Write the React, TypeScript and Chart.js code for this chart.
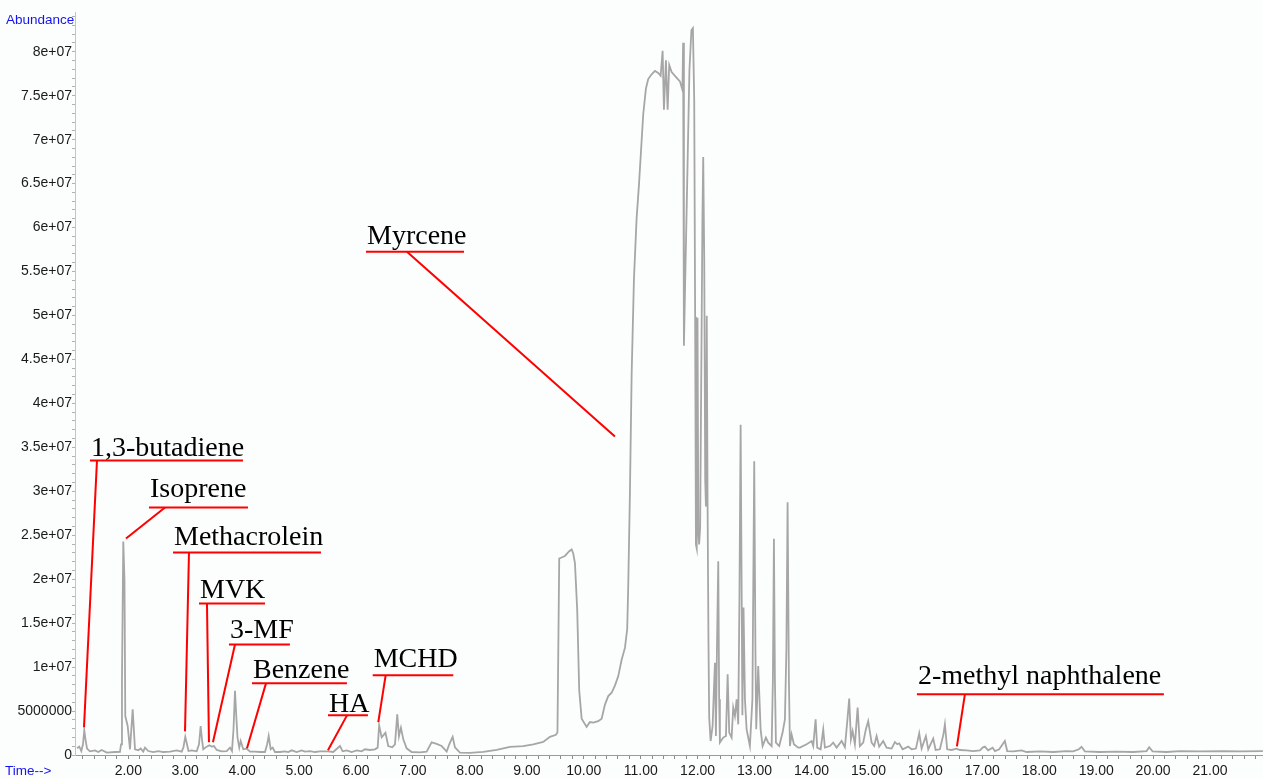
import React, { useEffect, useRef } from 'react';
import { Chart, registerables } from 'chart.js';

Chart.register(...registerables);

// Retention time (min)
const TIME = [
  1.099,1.139,1.175,1.204,1.227,1.248,1.275,1.327,1.415,1.473,
  1.533,1.621,1.766,1.854,1.872,1.889,1.912,1.933,1.947,1.989,
  2.030,2.077,2.118,2.176,2.218,2.263,2.293,2.351,2.439,2.527,
  2.615,2.732,2.850,2.938,2.969,3.001,3.031,3.057,3.113,3.201,
  3.242,3.271,3.294,3.317,3.377,3.423,3.465,3.505,3.552,3.640,
  3.728,3.786,3.821,3.848,3.874,3.900,3.918,3.949,3.974,4.020,
  4.079,4.137,4.225,4.313,4.401,4.439,4.466,4.501,4.536,4.576,
  4.664,4.752,4.810,4.870,4.957,5.045,5.103,5.191,5.279,5.367,
  5.512,5.600,5.718,5.765,5.836,5.923,6.011,6.099,6.157,6.245,
  6.333,6.380,6.406,6.450,6.517,6.566,6.636,6.684,6.724,6.754,
  6.789,6.830,6.889,6.977,7.123,7.240,7.328,7.416,7.504,7.592,
  7.637,7.697,7.737,7.825,8.001,8.235,8.470,8.703,8.937,9.113,
  9.288,9.406,9.511,9.538,9.569,9.611,9.669,9.745,9.787,9.815,
  9.845,9.885,9.920,9.963,10.050,10.108,10.166,10.254,10.314,10.372,
  10.430,10.489,10.547,10.605,10.665,10.723,10.763,10.781,10.811,10.841,
  10.881,10.928,10.969,11.004,11.044,11.092,11.132,11.192,11.250,11.308,
  11.350,11.385,11.408,11.443,11.473,11.501,11.543,11.601,11.689,11.733,
  11.745,11.759,11.782,11.821,11.856,11.891,11.917,11.940,11.956,11.970,
  11.984,11.998,12.012,12.026,12.044,12.067,12.084,12.098,12.116,12.133,
  12.146,12.160,12.174,12.190,12.203,12.228,12.263,12.286,12.304,12.321,
  12.339,12.362,12.378,12.391,12.449,12.497,12.527,12.555,12.597,12.625,
  12.655,12.685,12.713,12.734,12.755,12.774,12.786,12.806,12.831,12.860,
  12.918,12.962,12.994,13.015,13.029,13.064,13.106,13.141,13.199,13.240,
  13.300,13.322,13.340,13.357,13.375,13.433,13.492,13.533,13.559,13.580,
  13.603,13.621,13.650,13.691,13.767,13.796,13.914,14.002,14.030,14.072,
  14.100,14.160,14.206,14.235,14.323,14.381,14.441,14.529,14.587,14.631,
  14.662,14.692,14.722,14.762,14.810,14.850,14.908,14.955,14.996,15.056,
  15.101,15.143,15.189,15.259,15.319,15.407,15.465,15.505,15.540,15.600,
  15.698,15.758,15.834,15.892,15.934,16.009,16.050,16.138,16.180,16.255,
  16.317,16.343,16.383,16.461,16.548,16.606,16.724,16.840,16.958,17.005,
  17.045,17.103,17.181,17.221,17.297,17.396,17.437,17.542,17.690,17.778,
  18.011,18.245,18.480,18.596,18.696,18.743,18.801,19.065,19.358,19.650,
  19.885,19.931,19.990,20.236,20.470,20.821,21.230,21.524,21.928,
];

// Abundance in millions of counts
const ABUNDANCE_M = [
  0.76,0.95,0.45,1.22,2.81,1.78,0.73,0.42,0.53,0.34,
  0.57,0.27,0.34,0.36,1.22,8.60,24.28,19.97,4.43,3.30,
  0.65,5.19,0.65,0.53,0.73,0.39,0.84,0.45,0.34,0.45,
  0.34,0.39,0.53,0.39,0.88,2.07,1.22,0.45,0.53,0.42,
  1.22,3.30,1.78,0.65,0.95,1.10,0.95,1.02,0.57,0.42,
  0.45,0.84,0.45,2.92,7.30,4.06,2.01,0.84,1.59,0.65,
  0.73,0.39,0.39,0.34,0.34,1.22,2.16,0.65,0.84,0.34,
  0.34,0.42,0.34,0.53,0.34,0.53,0.39,0.45,0.34,0.42,
  0.42,0.34,1.02,0.42,0.53,0.34,0.53,0.42,0.65,0.57,
  0.65,0.84,3.38,2.01,2.52,1.02,0.88,1.22,4.63,2.13,
  3.11,1.78,0.76,0.34,0.31,0.39,1.44,1.27,1.02,0.39,
  1.22,2.07,0.88,0.27,0.25,0.36,0.59,0.93,1.02,1.22,
  1.48,2.07,2.30,2.58,22.35,22.47,22.64,23.18,23.38,22.92,
  21.84,16.48,7.35,4.13,3.20,3.75,3.69,3.85,4.13,5.73,
  6.70,7.08,7.89,8.95,10.83,12.18,14.33,19.17,29.90,43.33,
  54.06,61.05,64.81,68.57,72.86,75.82,76.89,77.43,77.81,77.59,
  77.26,80.11,73.40,79.03,73.40,78.50,77.69,77.26,76.63,75.65,
  81.02,46.56,54.06,66.56,77.92,82.47,82.69,74.51,49.85,23.94,
  23.49,49.74,25.65,23.94,25.88,46.10,60.88,68.03,56.33,31.33,
  28.26,49.97,29.06,13.15,4.28,1.59,3.30,7.47,10.50,2.16,
  12.01,22.05,6.33,1.41,1.98,2.16,9.17,2.55,1.98,5.39,
  4.43,6.33,3.49,17.69,37.58,17.69,4.51,16.78,6.33,2.92,
  1.02,6.33,33.41,12.01,2.92,10.11,2.92,1.02,1.98,1.41,
  1.02,8.60,24.59,8.60,1.41,1.02,2.55,4.06,12.01,28.75,
  8.60,1.02,2.35,1.22,0.84,0.84,1.22,1.59,1.02,4.06,
  0.84,0.65,2.92,0.84,1.02,1.41,0.84,1.59,0.88,4.06,
  6.41,1.78,2.73,1.22,5.39,1.02,1.41,2.92,3.86,1.41,
  1.02,2.16,0.95,1.59,0.84,0.73,1.48,1.22,1.33,0.65,
  0.95,0.65,0.73,2.47,0.73,2.16,0.65,1.86,0.57,0.65,
  2.35,3.49,0.65,0.57,0.73,0.57,0.53,0.45,0.53,0.84,
  0.95,0.53,0.84,0.45,0.65,1.59,0.45,0.42,0.53,0.34,
  0.42,0.34,0.45,0.42,0.65,0.93,0.42,0.34,0.39,0.34,
  0.45,0.88,0.42,0.34,0.45,0.42,0.45,0.42,0.45,
];

// Axis ranges and ticks
const X_MIN = 1.064;
const X_MAX = 21.93;
const Y_MIN = 0;
const Y_MAX = 84.52;
const X_LABEL_VALUES = [2, 3, 4, 5, 6, 7, 8, 9, 10, 11, 12, 13, 14, 15, 16, 17, 18, 19, 20, 21];
const X_TICK_LABELS = ['2.00','3.00','4.00','5.00','6.00','7.00','8.00','9.00','10.00','11.00','12.00','13.00','14.00','15.00','16.00','17.00','18.00','19.00','20.00','21.00'];
const Y_LABEL_VALUES = [0, 5, 10, 15, 20, 25, 30, 35, 40, 45, 50, 55, 60, 65, 70, 75, 80];
const Y_TICK_LABELS = ['0','5000000','1e+07','1.5e+07','2e+07','2.5e+07','3e+07','3.5e+07','4e+07','4.5e+07','5e+07','5.5e+07','6e+07','6.5e+07','7e+07','7.5e+07','8e+07'];

// Compound annotations
const ANNOT_LABELS = ['1,3-butadiene','Isoprene','Methacrolein','MVK','3-MF','Benzene','HA','MCHD','Myrcene','2-methyl naphthalene'];
const ANNOT_UNDERLINE_ABUND = [33.49, 28.15, 23.03, 17.24, 12.58, 8.15, 4.51, 9.06, 57.24, 6.90];
const ANNOT_UNDERLINE_START = [1.327, 2.364, 2.785, 3.242, 3.768, 4.172, 5.507, 6.293, 6.175, 15.851];
const ANNOT_UNDERLINE_END = [4.014, 4.102, 5.384, 4.401, 4.839, 5.840, 6.209, 7.708, 7.896, 20.189];
const ANNOT_ANCHOR_TIME = [1.450, 2.645, 3.066, 3.382, 3.874, 4.418, 5.841, 6.520, 6.895, 16.694];
const ANNOT_PEAK_TIME = [1.222, 1.960, 2.996, 3.417, 3.487, 4.085, 5.507, 6.391, 10.547, 16.554];
const ANNOT_PEAK_ABUND = [3.15, 24.62, 2.69, 1.44, 1.44, 0.76, 0.53, 3.75, 36.22, 0.99];
const ANNOT_TEXT_GAP = [5, 11, 8, 5, 6, 5, 3, 8, 8, 10];

const SANS = '"Liberation Sans", Arial, Helvetica, sans-serif';
const SERIF = '"Liberation Serif", "Times New Roman", serif';

export default function App() {
  const ref = useRef<HTMLCanvasElement>(null);

  useEffect(() => {
    const canvas = ref.current;
    if (!canvas) return;

    const points = TIME.map((t, i) => ({ x: t, y: ABUNDANCE_M[i] }));

    const bgPlugin = {
      id: 'bg',
      beforeDraw(chart: any) {
        const c = chart.ctx;
        c.save();
        c.fillStyle = '#fcfdfd';
        c.fillRect(0, 0, chart.width, chart.height);
        c.restore();
      },
    };

    const annotPlugin = {
      id: 'annot',
      afterDraw(chart: any) {
        const c = chart.ctx;
        const xs = chart.scales.x;
        const ys = chart.scales.y;
        c.save();
        c.font = '13.5px ' + SANS;
        c.fillStyle = '#1414f0';
        c.textAlign = 'left';
        c.textBaseline = 'middle';
        c.fillText('Abundance', 6, 20);
        c.fillText('Time-->', 5, 771);

        for (let i = 0; i < ANNOT_LABELS.length; i++) {
          const uy = ys.getPixelForValue(ANNOT_UNDERLINE_ABUND[i]);
          const ux1 = xs.getPixelForValue(ANNOT_UNDERLINE_START[i]);
          const ux2 = xs.getPixelForValue(ANNOT_UNDERLINE_END[i]);
          const ax = xs.getPixelForValue(ANNOT_ANCHOR_TIME[i]);
          const px = xs.getPixelForValue(ANNOT_PEAK_TIME[i]);
          const py = ys.getPixelForValue(ANNOT_PEAK_ABUND[i]);

          c.font = '28px ' + SERIF;
          c.fillStyle = '#000';
          c.textAlign = 'left';
          c.textBaseline = 'alphabetic';
          c.fillText(ANNOT_LABELS[i], ux1 + 1, uy - ANNOT_TEXT_GAP[i]);

          c.strokeStyle = '#ff0000';
          c.lineWidth = 2;
          c.beginPath();
          c.moveTo(ux1, uy);
          c.lineTo(ux2, uy);
          c.stroke();
          c.beginPath();
          c.moveTo(ax, uy);
          c.lineTo(px, py);
          c.stroke();
        }
        c.restore();
      },
    };

    const chart = new Chart(canvas, {
      type: 'line',
      data: {
        datasets: [
          {
            data: points,
            borderColor: '#a6a6a6',
            borderWidth: 1.8,
            pointRadius: 0,
            tension: 0,
            fill: false,
          },
        ],
      },
      options: {
        responsive: false,
        animation: false,
        events: [],
        layout: { padding: { top: 12, left: 0, right: 0, bottom: 0 } },
        plugins: { legend: { display: false }, tooltip: { enabled: false }, title: { display: false } },
        scales: {
          x: {
            type: 'linear',
            min: X_MIN,
            max: X_MAX,
            afterFit: (s: any) => { s.height = 24; },
            afterBuildTicks: (s: any) => {
              const t: any[] = [];
              for (let k = 6; k <= 109; k++) t.push({ value: Math.round(k * 2) / 10 });
              s.ticks = t;
            },
            grid: { drawOnChartArea: false, tickLength: 4, tickColor: '#8a8a8a', tickWidth: 1 },
            border: { display: true, color: '#9a9a9a', width: 1 },
            ticks: {
              autoSkip: false,
              maxRotation: 0,
              minRotation: 0,
              padding: 4,
              color: '#1a1a1a',
              font: { family: SANS, size: 14 },
              callback: (v: any) => {
                const i = X_LABEL_VALUES.findIndex((lv) => Math.abs(lv - Number(v)) < 1e-6);
                return i >= 0 ? X_TICK_LABELS[i] : '';
              },
            },
          },
          y: {
            type: 'linear',
            min: Y_MIN,
            max: Y_MAX,
            afterFit: (s: any) => { s.width = 75; },
            afterBuildTicks: (s: any) => {
              const t: any[] = [];
              for (let k = 0; k <= 84; k++) t.push({ value: k });
              s.ticks = t;
            },
            grid: { drawOnChartArea: false, tickLength: 3, tickColor: '#b0b0b0', tickWidth: 1 },
            border: { display: true, color: '#c4c4c4', width: 1 },
            ticks: {
              autoSkip: false,
              padding: 0,
              color: '#1a1a1a',
              font: { family: SANS, size: 14 },
              callback: (v: any) => {
                const i = Y_LABEL_VALUES.findIndex((lv) => Math.abs(lv - Number(v)) < 1e-6);
                return i >= 0 ? Y_TICK_LABELS[i] : '';
              },
            },
          },
        },
      },
      plugins: [bgPlugin, annotPlugin],
    } as any);

    return () => chart.destroy();
  }, []);

  return (
    <canvas
      ref={ref}
      width={1263}
      height={779}
      style={{ position: 'fixed', left: 0, top: 0, display: 'block', width: '1263px', height: '779px' }}
    />
  );
}
